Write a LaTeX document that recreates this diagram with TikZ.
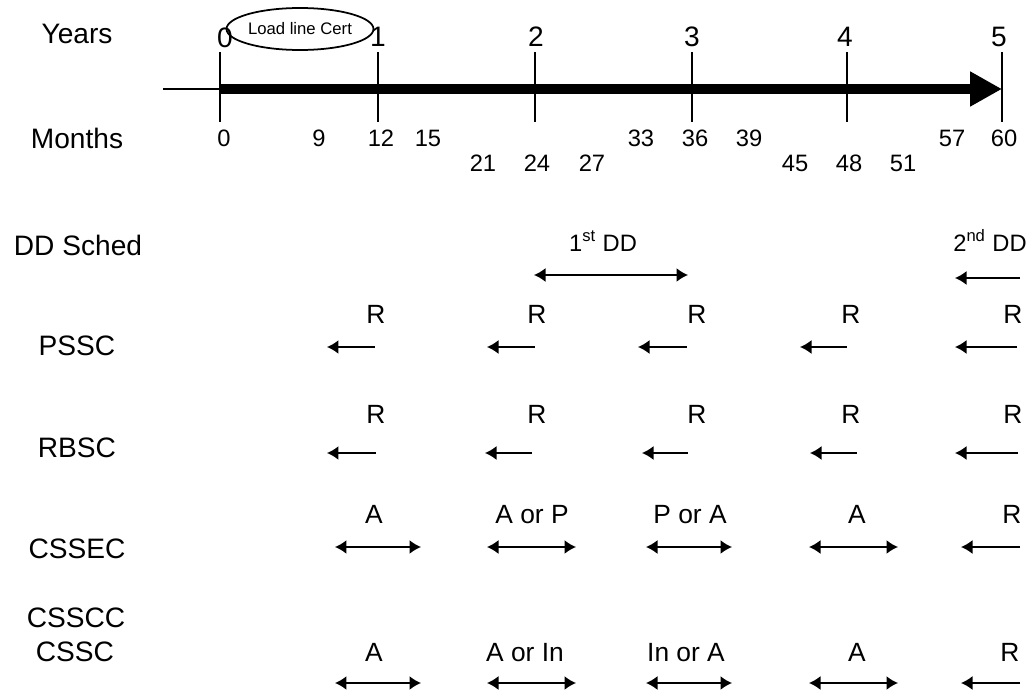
\documentclass[tikz,border=0pt]{standalone}
\usepackage{fontspec}
\setmainfont{Liberation Sans}
\usepackage{tikz}
\usetikzlibrary{arrows.meta,shapes.geometric}

\begin{document}
\begin{tikzpicture}[x=0.02cm, y=-0.02cm,
	rowlabel/.style={anchor=base, inner sep=0pt, font=\fontsize{16}{18}\selectfont},
	yearnum/.style={anchor=base, inner sep=0pt, font=\fontsize{16}{18}\selectfont},
	monthnum/.style={anchor=base, inner sep=0pt, font=\fontsize{13.5}{15}\selectfont},
	code/.style={anchor=base, inner sep=0pt, font=\fontsize{15}{17}\selectfont},
	ddtext/.style={anchor=base, inner sep=0pt, font=\fontsize{13.5}{15}\selectfont},
	tickline/.style={draw=black, line width=0.7pt},
	leftarr/.style={draw=black, line width=0.9pt, -{Latex[length=2.3mm,width=2.8mm]}},
	botharr/.style={draw=black, line width=0.9pt, {Latex[length=2.3mm,width=2.8mm]}-{Latex[length=2.3mm,width=2.8mm]}}]
	\useasboundingbox (0,0) rectangle (1029,693);
	% row labels
	\node[rowlabel] (years) at (77,44) {Years};
	\node[rowlabel] (months) at (77,148) {Months};
	\node[rowlabel] (ddsched) at (78,255) {DD Sched};
	\node[rowlabel] (pssc) at (77,355) {PSSC};
	\node[rowlabel] (rbsc) at (77,457) {RBSC};
	\node[rowlabel] (cssec) at (77,558) {CSSEC};
	\node[rowlabel] (csscc) at (76,627) {CSSCC};
	\node[rowlabel] (cssc) at (75,661) {CSSC};
	% years
	\node[yearnum] (y0) at (225,48) {0};
	\node[yearnum] (y1) at (378,47) {1};
	\node[yearnum] (y2) at (536,47) {2};
	\node[yearnum] (y3) at (692,47) {3};
	\node[yearnum] (y4) at (845,47) {4};
	\node[yearnum] (y5) at (999,47) {5};
	\node[draw=black, line width=1pt, ellipse, inner sep=0pt, minimum width=2.6cm, minimum height=0.84cm,
		font=\fontsize{9.5}{11}\selectfont] (cert) at (300,29) {Load line Cert};
	% time axis
	\coordinate (axin) at (163,89);
	\coordinate (axstart) at (220,89);
	\coordinate (axend) at (1002,89);
	\draw[draw=black, line width=0.8pt] (axin) -- (axstart);
	\draw[draw=black, line width=0.22cm, -{Triangle[length=0.64cm,width=0.66cm]}] (axstart) -- (axend);
	\draw[tickline] (220,52) -- (220,122);
	\draw[tickline] (378,52) -- (378,122);
	\draw[tickline] (535,52) -- (535,122);
	\draw[tickline] (692,52) -- (692,122);
	\draw[tickline] (847,52) -- (847,122);
	\draw[tickline] (1002,52) -- (1002,122);
	% months
	\node[monthnum] (m0) at (224,146) {0};
	\node[monthnum] (m9) at (319,146) {9};
	\node[monthnum] (m12) at (381,146) {12};
	\node[monthnum] (m15) at (428,146) {15};
	\node[monthnum] (m21) at (483,171) {21};
	\node[monthnum] (m24) at (537,171) {24};
	\node[monthnum] (m27) at (592,171) {27};
	\node[monthnum] (m33) at (641,146) {33};
	\node[monthnum] (m36) at (695,146) {36};
	\node[monthnum] (m39) at (749,146) {39};
	\node[monthnum] (m45) at (795,171) {45};
	\node[monthnum] (m48) at (849,171) {48};
	\node[monthnum] (m51) at (903,171) {51};
	\node[monthnum] (m57) at (952,146) {57};
	\node[monthnum] (m60) at (1004,146) {60};
	% dry dock schedule
	\node[ddtext] (dd1) at (603,251) {1\textsuperscript{st} DD};
	\node[ddtext] (dd2) at (990,251) {2\textsuperscript{nd} DD};
	\path (534,275) coordinate (dd1a) (688,275) coordinate (dd1b);
	\path (1020,278) coordinate (dd2a) (955,278) coordinate (dd2b);
	\draw[botharr] (dd1a) -- (dd1b);
	\draw[leftarr] (dd2a) -- (dd2b);
	% PSSC
	\node[code] (ps1) at (376,323) {R};
	\node[code] (ps2) at (537,323) {R};
	\node[code] (ps3) at (697,323) {R};
	\node[code] (ps4) at (851,323) {R};
	\node[code] (ps5) at (1013,323) {R};
	\path (375,347) coordinate (ps1a) (327,347) coordinate (ps1b);
	\path (535,347) coordinate (ps2a) (487,347) coordinate (ps2b);
	\path (687,347) coordinate (ps3a) (638,347) coordinate (ps3b);
	\path (847,347) coordinate (ps4a) (800,347) coordinate (ps4b);
	\path (1017,347) coordinate (ps5a) (955,347) coordinate (ps5b);
	\draw[leftarr] (ps1a) -- (ps1b);
	\draw[leftarr] (ps2a) -- (ps2b);
	\draw[leftarr] (ps3a) -- (ps3b);
	\draw[leftarr] (ps4a) -- (ps4b);
	\draw[leftarr] (ps5a) -- (ps5b);
	% RBSC
	\node[code] (rb1) at (376,423) {R};
	\node[code] (rb2) at (537,423) {R};
	\node[code] (rb3) at (697,423) {R};
	\node[code] (rb4) at (851,423) {R};
	\node[code] (rb5) at (1013,423) {R};
	\path (376,453) coordinate (rb1a) (327,453) coordinate (rb1b);
	\path (532,453) coordinate (rb2a) (485,453) coordinate (rb2b);
	\path (688,453) coordinate (rb3a) (642,453) coordinate (rb3b);
	\path (857,453) coordinate (rb4a) (810,453) coordinate (rb4b);
	\path (1018,453) coordinate (rb5a) (955,453) coordinate (rb5b);
	\draw[leftarr] (rb1a) -- (rb1b);
	\draw[leftarr] (rb2a) -- (rb2b);
	\draw[leftarr] (rb3a) -- (rb3b);
	\draw[leftarr] (rb4a) -- (rb4b);
	\draw[leftarr] (rb5a) -- (rb5b);
	% CSSEC
	\node[code] (ce1) at (374,523) {A};
	\node[code] (ce2) at (532,523) {A or P};
	\node[code] (ce3) at (690,523) {P or A};
	\node[code] (ce4) at (857,523) {A};
	\node[code] (ce5) at (1012,523) {R};
	\path (335,547) coordinate (ce1a) (421,547) coordinate (ce1b);
	\path (487,547) coordinate (ce2a) (576,547) coordinate (ce2b);
	\path (646,547) coordinate (ce3a) (732,547) coordinate (ce3b);
	\path (809,547) coordinate (ce4a) (898,547) coordinate (ce4b);
	\path (1020,547) coordinate (ce5a) (961,547) coordinate (ce5b);
	\draw[botharr] (ce1a) -- (ce1b);
	\draw[botharr] (ce2a) -- (ce2b);
	\draw[botharr] (ce3a) -- (ce3b);
	\draw[botharr] (ce4a) -- (ce4b);
	\draw[leftarr] (ce5a) -- (ce5b);
	% CSSCC / CSSC
	\node[code] (cc1) at (374,661) {A};
	\node[code] (cc2) at (525,661) {A or In};
	\node[code] (cc3) at (686,661) {In or A};
	\node[code] (cc4) at (857,661) {A};
	\node[code] (cc5) at (1010,661) {R};
	\path (335,683) coordinate (cc1a) (421,683) coordinate (cc1b);
	\path (487,683) coordinate (cc2a) (576,683) coordinate (cc2b);
	\path (646,683) coordinate (cc3a) (732,683) coordinate (cc3b);
	\path (809,683) coordinate (cc4a) (898,683) coordinate (cc4b);
	\path (1020,683) coordinate (cc5a) (961,683) coordinate (cc5b);
	\draw[botharr] (cc1a) -- (cc1b);
	\draw[botharr] (cc2a) -- (cc2b);
	\draw[botharr] (cc3a) -- (cc3b);
	\draw[botharr] (cc4a) -- (cc4b);
	\draw[leftarr] (cc5a) -- (cc5b);
\end{tikzpicture}
\end{document}
